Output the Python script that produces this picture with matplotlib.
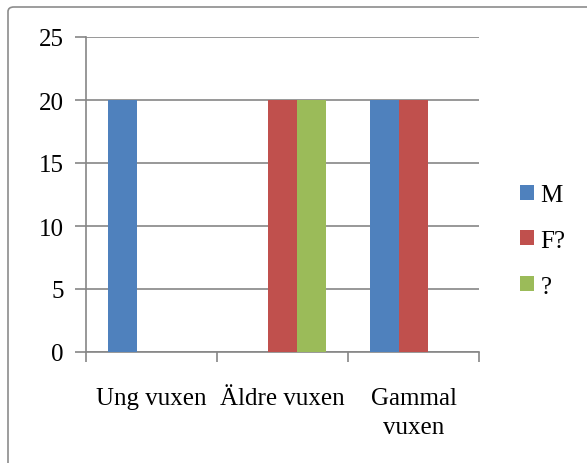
import numpy as np
import matplotlib
matplotlib.use("Agg")
import matplotlib.pyplot as plt
from matplotlib.patches import FancyBboxPatch

plt.rcParams['font.family'] = ['Liberation Serif', 'DejaVu Serif']

categories = ["Ung vuxen", "Äldre vuxen", "Gammal\nvuxen"]
series_names = ["M", "F?", "?"]
m_vals = [20, 0, 20]
f_vals = [0, 20, 20]
q_vals = [0, 20, 0]
colors = ["#4F81BD", "#C0504D", "#9BBB59"]
yticks = [0, 5, 10, 15, 20, 25]

fig = plt.figure(figsize=(5.87, 4.64), dpi=100)
fig.patch.set_facecolor("white")

# outer chart border
border = FancyBboxPatch((8/587, -0.05), 1.2, 1 - 8/464 + 0.05,
                        boxstyle="round,pad=0,rounding_size=0.01",
                        transform=fig.transFigure, fill=False,
                        edgecolor="#8c8c8c", linewidth=1.2)
fig.patches.append(border)

ax = fig.add_axes([86/587, 1 - 353/464, (479 - 86)/587, (353 - 38)/464])

x = np.arange(len(categories))
w = 1 / 4.5
for i, (vals, name) in enumerate(zip([m_vals, f_vals, q_vals], series_names)):
    ax.bar(x + (i - 1) * w, vals, w, color=colors[i], label=name, zorder=3)

ax.set_xlim(-0.5, len(categories) - 0.5)
ax.set_ylim(0, 25)
ax.set_yticks(yticks)
ax.yaxis.grid(True, color="#868686", linewidth=1.2, zorder=0)
ax.set_axisbelow(True)

for s in ["top", "right"]:
    ax.spines[s].set_visible(False)
ax.spines["left"].set_color("#868686")
ax.spines["bottom"].set_color("#868686")
ax.spines["left"].set_linewidth(1.2)
ax.spines["bottom"].set_linewidth(1.2)

ax.set_xticks(np.arange(len(categories) + 1) - 0.5)
ax.set_xticklabels([])
ax.set_xticks(x, minor=True)
ax.set_xticklabels(categories, minor=True, fontsize=18, linespacing=1.45)
ax.tick_params(axis="x", which="major", length=7, color="#868686", width=1.2)
ax.tick_params(axis="x", which="minor", length=0, pad=25)
ax.tick_params(axis="y", length=8, color="#868686", width=1.2, labelsize=18, pad=8)

leg = ax.legend(loc="upper left", bbox_to_anchor=(1.08, 0.565), frameon=False,
                fontsize=18, handlelength=0.55, handleheight=0.55,
                handletextpad=0.25, labelspacing=0.95, borderaxespad=0)

fig.savefig("out.png", dpi=100)
